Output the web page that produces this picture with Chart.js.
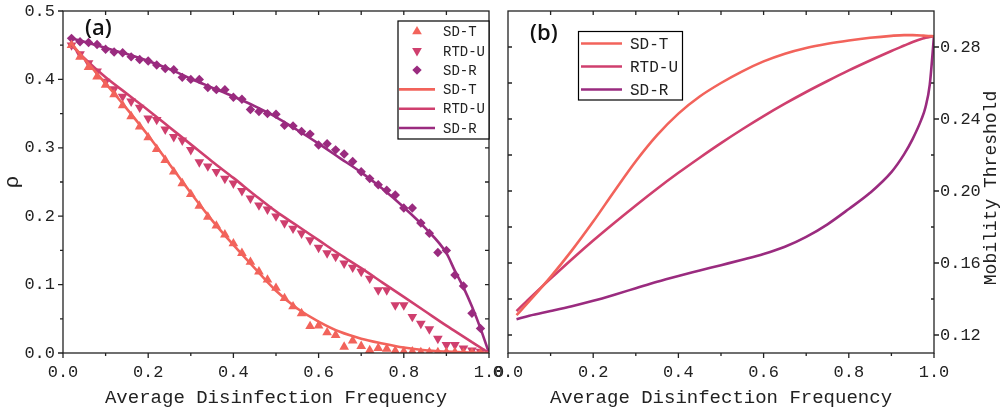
<!DOCTYPE html>
<html><head><meta charset="utf-8">
<script src="https://cdn.jsdelivr.net/npm/chart.js@4.4.1/dist/chart.umd.min.js"></script>
<style>
html,body{margin:0;padding:0;background:#fff;}
#wrap{position:relative;width:1001px;height:416px;overflow:hidden;background:#fff;}
canvas{position:absolute;left:0;top:0;}
</style></head><body>
<div id="wrap"><canvas id="ca" width="1001" height="416"></canvas><canvas id="cb" width="1001" height="416"></canvas></div>
<script>
// ---------- data (panel a: markers) ----------
const xMarks = [0.02,0.04,0.06,0.08,0.10,0.12,0.14,0.16,0.18,0.20,0.22,0.24,0.26,0.28,0.30,0.32,0.34,0.36,0.38,0.40,0.42,0.44,0.46,0.48,0.50,0.52,0.54,0.56,0.58,0.60,0.62,0.64,0.66,0.68,0.70,0.72,0.74,0.76,0.78,0.80,0.82,0.84,0.86,0.88,0.90,0.92,0.94,0.96,0.98,1.00];
const sdtMarks = [0.450,0.433,0.418,0.404,0.392,0.378,0.362,0.346,0.331,0.315,0.298,0.282,0.265,0.248,0.232,0.215,0.199,0.186,0.173,0.160,0.146,0.133,0.119,0.107,0.095,0.080,0.068,0.058,0.039,0.040,0.030,0.026,0.009,0.018,0.010,0.004,0.007,0.006,0.003,0.002,0.002,0.001,0.001,0.001,0.001,0.001,0.000,0.000,0.000,0.000];
const rtduMarks = [0.450,0.437,0.424,0.412,0.397,0.386,0.375,0.368,0.359,0.343,0.341,0.327,0.316,0.311,0.297,0.279,0.273,0.265,0.255,0.248,0.237,0.226,0.216,0.210,0.200,0.190,0.182,0.175,0.165,0.154,0.146,0.141,0.131,0.125,0.119,0.109,0.092,0.092,0.070,0.070,0.053,0.043,0.035,0.021,0.012,0.012,0.007,0.004,0.002,0.000];
const sdrMarks = [0.460,0.455,0.454,0.451,0.444,0.440,0.439,0.433,0.429,0.427,0.421,0.416,0.414,0.403,0.400,0.400,0.388,0.385,0.385,0.374,0.371,0.356,0.353,0.350,0.349,0.333,0.332,0.324,0.320,0.304,0.306,0.297,0.291,0.280,0.265,0.255,0.246,0.238,0.231,0.212,0.212,0.190,0.175,0.147,0.150,0.114,0.098,0.058,0.036,0.000];
// ---------- data (panel a: lines) ----------
const xLineA = [0.02,0.05,0.10,0.15,0.20,0.25,0.30,0.35,0.40,0.45,0.50,0.55,0.60,0.65,0.70,0.75,0.80,0.85,0.90,0.92,0.94,0.96,0.98,1.00];
const sdtLineA = [0.452,0.430,0.394,0.357,0.318,0.276,0.234,0.194,0.158,0.124,0.091,0.065,0.046,0.031,0.021,0.014,0.008,0.004,0.002,0.0015,0.001,0.0007,0.0004,0.000];
const rtduLineA = [0.450,0.431,0.403,0.379,0.355,0.330,0.305,0.280,0.256,0.231,0.207,0.186,0.165,0.144,0.124,0.103,0.082,0.061,0.040,0.032,0.024,0.016,0.008,0.000];
const sdrLineA = [0.460,0.455,0.446,0.437,0.427,0.415,0.401,0.388,0.375,0.361,0.345,0.326,0.306,0.285,0.264,0.240,0.213,0.183,0.146,0.120,0.096,0.068,0.036,0.000];
// ---------- data (panel b: lines) ----------
const xLineB = [0.02,0.05,0.10,0.15,0.20,0.25,0.30,0.35,0.40,0.45,0.50,0.55,0.60,0.65,0.70,0.75,0.80,0.85,0.90,0.93,0.95,0.97,0.98,0.99,1.00];
const sdtLineB = [0.1310,0.1388,0.1523,0.1670,0.1830,0.2000,0.2165,0.2310,0.2430,0.2525,0.2600,0.2665,0.2720,0.2763,0.2795,0.2818,0.2836,0.2851,0.2862,0.2866,0.2866,0.2864,0.2862,0.2861,0.2860];
const rtduLineB = [0.1333,0.1402,0.1513,0.1621,0.1725,0.1824,0.1920,0.2013,0.2101,0.2185,0.2266,0.2343,0.2416,0.2485,0.2550,0.2611,0.2670,0.2725,0.2778,0.2808,0.2828,0.2845,0.2851,0.2856,0.2860];
const sdrLineB = [0.1287,0.1307,0.1333,0.1360,0.1390,0.1424,0.1460,0.1496,0.1528,0.1558,0.1588,0.1618,0.1650,0.1690,0.1745,0.1815,0.1900,0.1990,0.2105,0.2205,0.2290,0.2395,0.2465,0.2590,0.2860];
// ---------- labels / ticks ----------
const seriesNames = ['SD-T','RTD-U','SD-R'];
const xTickVals = [0,0.2,0.4,0.6,0.8,1.0];
const yTickValsA = [0,0.1,0.2,0.3,0.4,0.5];
const yTickValsB = [0.12,0.16,0.20,0.24,0.28];
const xTitle = 'Average Disinfection Frequency';
const yTitleA = 'ρ';
const yTitleB = 'Mobility Threshold';

const COLORS = ['#F2635B','#CF3F6E','#9A2B7F'];
const AXIS = '#222';
const MONO = '"Liberation Mono", "DejaVu Sans Mono", monospace';

const pts = (xs, ys) => xs.map((x,i)=>({x:x, y:ys[i]}));
const range = (a,b,s) => { const r=[]; for(let v=a; v<=b+1e-9; v+=s) r.push(+v.toFixed(4)); return r; };

function drawMarker(ctx, style, rot, r, x, y){
  ctx.beginPath();
  if (style==='triangle'){
    let rad = rot*Math.PI/180;
    for (let k=0;k<3;k++){ const px=x+Math.sin(rad)*r, py=y-Math.cos(rad)*r; k?ctx.lineTo(px,py):ctx.moveTo(px,py); rad+=2*Math.PI/3; }
  } else {
    ctx.moveTo(x,y-r); ctx.lineTo(x+r,y); ctx.lineTo(x,y+r); ctx.lineTo(x-r,y);
  }
  ctx.closePath(); ctx.fill();
}

const deco = {
  id:'deco',
  afterDraw(chart, args, o){
    const ctx = chart.ctx, a = chart.chartArea;
    const xs = chart.scales.x, ys = chart.scales.y;
    ctx.save();
    ctx.strokeStyle = AXIS; ctx.lineWidth = 1.3;
    ctx.strokeRect(a.left, a.top, a.right-a.left, a.bottom-a.top);
    ctx.beginPath();
    for (const t of o.ticks){
      for (const v of t.vals){
        if (t.side==='bottom'){ const p=xs.getPixelForValue(v); ctx.moveTo(p,a.bottom); ctx.lineTo(p,a.bottom+t.len); }
        else if (t.side==='top'){ const p=xs.getPixelForValue(v); ctx.moveTo(p,a.top); ctx.lineTo(p,a.top-t.len); }
        else if (t.side==='left'){ const p=ys.getPixelForValue(v); ctx.moveTo(a.left,p); ctx.lineTo(a.left-t.len,p); }
        else { const p=ys.getPixelForValue(v); ctx.moveTo(a.right,p); ctx.lineTo(a.right+t.len,p); }
      }
    }
    ctx.stroke();
    // panel tag
    ctx.fillStyle = '#111'; ctx.font = '600 22px "Open Sans", "Noto Sans", sans-serif';
    ctx.textAlign='left'; ctx.textBaseline='middle';
    ctx.fillText(o.tag, o.tagX, o.tagY);
    // legend
    const L = o.legend;
    ctx.fillStyle='#fff'; ctx.fillRect(L.x, L.y, L.w, L.h);
    ctx.lineWidth = 1.2; ctx.strokeStyle = '#000'; ctx.strokeRect(L.x, L.y, L.w, L.h);
    ctx.font = L.font; ctx.textBaseline='middle'; ctx.textAlign='left';
    chart.data.datasets.forEach((ds,i)=>{
      const y = L.row0 + i*L.rowH;
      if (ds.showLine === false){
        ctx.fillStyle = ds.backgroundColor;
        drawMarker(ctx, ds.pointStyle, ds.pointRotation||0, ds.pointRadius, L.markX, y);
      } else {
        ctx.strokeStyle = ds.borderColor; ctx.lineWidth = ds.borderWidth;
        ctx.beginPath(); ctx.moveTo(L.lx0, y); ctx.lineTo(L.lx1, y); ctx.stroke();
      }
      ctx.fillStyle = '#222';
      ctx.fillText(ds.label, L.tx, y+1);
    });
    if (o.rightTitle){
      ctx.save();
      ctx.translate(o.rightTitle.x, o.rightTitle.y); ctx.rotate(-Math.PI/2);
      ctx.font = '18px ' + MONO; ctx.fillStyle = '#222'; ctx.textAlign='center'; ctx.textBaseline='middle';
      ctx.fillText(o.rightTitle.text, 0, 0);
      ctx.restore();
    }
    ctx.restore();
  }
};

function xScale(){
  return {
    type:'linear', min:0, max:1,
    afterBuildTicks: s => { s.ticks = xTickVals.map(v=>({value:v})); },
    afterFit: s => { s.height = 63; s.paddingLeft = 0; s.paddingRight = 0; },
    grid:{display:false, drawTicks:false}, border:{display:false},
    ticks:{font:{family:MONO, size:17}, color:AXIS, padding:9, maxRotation:0, autoSkip:false, callback: v => Number(v).toFixed(1)},
    title:{display:true, text:xTitle, color:AXIS, font:{family:MONO, size:19}, padding:{top:0, bottom:7}}
  };
}
function yFit(w){ return s => { s.width = w; s.paddingTop = 0; s.paddingBottom = 0; }; }

const markerDs = (i, ys, style, rot, r) => ({
  label: seriesNames[i], data: pts(xMarks, ys), showLine:false,
  pointStyle: style, pointRotation: rot, pointRadius: r, pointHoverRadius: r,
  backgroundColor: COLORS[i], borderColor: COLORS[i], pointBorderWidth: 0, borderWidth: 0, order: 2
});
const lineDs = (i, xs, ys) => ({
  label: seriesNames[i], data: pts(xs, ys), borderColor: COLORS[i], backgroundColor: COLORS[i],
  borderWidth: 2.6, pointRadius: 0, cubicInterpolationMode: 'monotone', fill:false, order: 1
});

new Chart(document.getElementById('ca'), {
  type:'line',
  data:{ datasets:[
    markerDs(0, sdtMarks, 'triangle', 0, 5.6),
    markerDs(1, rtduMarks, 'triangle', 180, 5.6),
    markerDs(2, sdrMarks, 'rectRot', 0, 4.7),
    lineDs(0, xLineA, sdtLineA),
    lineDs(1, xLineA, rtduLineA),
    lineDs(2, xLineA, sdrLineA)
  ]},
  options:{
    responsive:false, animation:false, devicePixelRatio:1,
    layout:{padding:{left:0, top:11, right:512, bottom:0}, autoPadding:false},
    events:[],
    plugins:{
      legend:{display:false}, tooltip:{enabled:false},
      deco:{
        tag:'(a)', tagX:85, tagY:29,
        ticks:[
          {side:'bottom', vals:range(0,1,0.2), len:5},
          {side:'bottom', vals:range(0.1,0.9,0.2), len:3},
          {side:'left', vals:range(0,0.5,0.1), len:5},
          {side:'left', vals:range(0.05,0.45,0.1), len:3},
          {side:'top', vals:range(0.1,0.9,0.1), len:-4},
          {side:'right', vals:range(0.05,0.45,0.05), len:-4}
        ],
        legend:{x:398, y:21, w:91, h:118, row0:31.5, rowH:19.3, markX:417, lx0:399, lx1:435, tx:443, font:'14px '+MONO}
      }
    },
    scales:{
      x: xScale(),
      y:{
        type:'linear', min:0, max:0.5,
        afterBuildTicks: s => { s.ticks = yTickValsA.map(v=>({value:v})); },
        afterFit: yFit(63),
        grid:{display:false, drawTicks:false}, border:{display:false},
        ticks:{font:{family:MONO, size:17}, color:AXIS, padding:8, callback: v => Number(v).toFixed(1)},
        title:{display:true, text:yTitleA, color:AXIS, font:{family:MONO, size:21}, padding:{top:0, bottom:0}}
      }
    }
  },
  plugins:[deco]
});

new Chart(document.getElementById('cb'), {
  type:'line',
  data:{ datasets:[
    lineDs(0, xLineB, sdtLineB),
    lineDs(1, xLineB, rtduLineB),
    lineDs(2, xLineB, sdrLineB)
  ]},
  options:{
    responsive:false, animation:false, devicePixelRatio:1,
    layout:{padding:{left:508, top:11, right:0, bottom:0}, autoPadding:false},
    events:[],
    plugins:{
      legend:{display:false}, tooltip:{enabled:false},
      deco:{
        tag:'(b)', tagX:530, tagY:34,
        ticks:[
          {side:'bottom', vals:range(0,1,0.2), len:5},
          {side:'bottom', vals:range(0.1,0.9,0.2), len:3},
          {side:'top', vals:range(0.1,0.9,0.1), len:-4},
          {side:'left', vals:range(0.12,0.28,0.02), len:-4},
          {side:'right', vals:range(0.12,0.28,0.04), len:5},
          {side:'right', vals:range(0.14,0.26,0.04), len:-3}
        ],
        legend:{x:578.5, y:31.5, w:104, h:68.5, row0:43.5, rowH:23, markX:600, lx0:581, lx1:622, tx:630, font:'16px '+MONO},
        rightTitle:{text:yTitleB, x:991, y:188}
      }
    },
    scales:{
      x: xScale(),
      y:{
        type:'linear', position:'right', min:0.11, max:0.30,
        afterBuildTicks: s => { s.ticks = yTickValsB.map(v=>({value:v})); },
        afterFit: yFit(67),
        grid:{display:false, drawTicks:false}, border:{display:false},
        ticks:{font:{family:MONO, size:17}, color:AXIS, padding:6, callback: v => Number(v).toFixed(2)},
        title:{display:false}
      }
    }
  },
  plugins:[deco]
});
</script>
</body></html>
